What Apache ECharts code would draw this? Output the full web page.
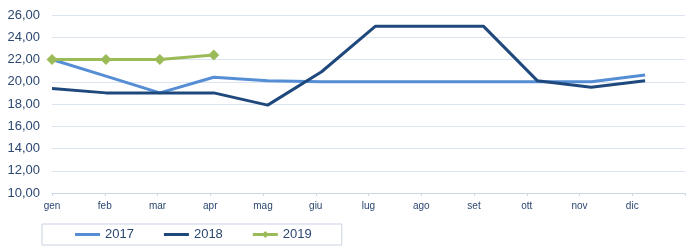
<!DOCTYPE html>
<html>
<head>
<meta charset="utf-8">
<script src="https://cdn.jsdelivr.net/npm/echarts@6/dist/echarts.min.js"></script>
<style>
  html, body { margin: 0; padding: 0; background: #fff; }
  #chart { width: 688px; height: 250px; }
</style>
</head>
<body>
<div id="chart"></div>
<script>
// mesi (etichette asse x), ultima posizione vuota
var months = ['gen', 'feb', 'mar', 'apr', 'mag', 'giu', 'lug', 'ago', 'set', 'ott', 'nov', 'dic', ''];
var y2017 = [22.0, 20.5, 19.0, 20.4, 20.1, 20.0, 20.0, 20.0, 20.0, 20.0, 20.0, 20.6];
var y2018 = [19.4, 19.0, 19.0, 19.0, 17.9, 20.9, 25.0, 25.0, 25.0, 20.1, 19.5, 20.1];
var y2019 = [22.0, 22.0, 22.0, 22.4];

var textColor = '#2C4770';
var gridColor = '#DCE4F1';
var font = 'Liberation Sans, Arial, sans-serif';

// icone legenda: solo linea / linea con rombo
var lineIcon = 'path://M0 0H25V3H0Z';
var diamondIcon = 'path://M0 5.5H25V8.5H0Z M12.5 3.5L16 7L12.5 10.5L9 7Z';

function pairs(arr) {
  return arr.map(function (v, i) { return [i, v]; });
}

var myChart = echarts.init(document.getElementById('chart'));
var option = {
  animation: false,
  textStyle: { fontFamily: font },
  grid: { left: 52, right: 1, top: 15, bottom: 57, containLabel: false },
  legend: {
    left: 42,
    top: 224,
    padding: [4, 30, 4, 33],
    itemWidth: 25,
    itemHeight: 12,
    itemGap: 30,
    borderColor: '#C9D3E3',
    borderWidth: 1,
    textStyle: { fontFamily: font, fontSize: 13, color: textColor },
    data: [
      { name: '2017', icon: lineIcon },
      { name: '2018', icon: lineIcon },
      { name: '2019', icon: diamondIcon }
    ]
  },
  xAxis: [
    {
      // asse visibile: etichette e tacche
      type: 'category',
      data: months,
      boundaryGap: false,
      axisLine: { lineStyle: { color: '#CDD6E6' } },
      axisTick: { show: true, length: 3, lineStyle: { color: '#CDD6E6' } },
      axisLabel: { color: textColor, fontSize: 10, margin: 8, fontFamily: font, interval: 0 },
      splitLine: { show: false }
    },
    {
      // asse nascosto per i punti (mese 0..11)
      type: 'value',
      min: 0,
      max: 11.74,
      show: false
    }
  ],
  yAxis: {
    type: 'value',
    min: 10,
    max: 26,
    interval: 2,
    axisLine: { show: false },
    axisTick: { show: false },
    axisLabel: {
      color: textColor, fontSize: 13, margin: 12, fontFamily: font,
      formatter: function (v) { return v.toFixed(2).replace('.', ','); }
    },
    splitLine: { lineStyle: { color: gridColor, width: 1 } }
  },
  series: [
    {
      name: '2017', type: 'line', xAxisIndex: 1,
      data: pairs(y2017),
      symbol: 'none',
      color: '#558ED5',
      lineStyle: { width: 3, color: '#558ED5' },
      z: 2
    },
    {
      name: '2018', type: 'line', xAxisIndex: 1,
      data: pairs(y2018),
      symbol: 'none',
      color: '#1F497D',
      lineStyle: { width: 3, color: '#1F497D' },
      z: 3
    },
    {
      name: '2019', type: 'line', xAxisIndex: 1,
      data: pairs(y2019),
      symbol: 'diamond',
      symbolSize: 11,
      color: '#9BBB59',
      itemStyle: { color: '#9BBB59' },
      lineStyle: { width: 3, color: '#9BBB59' },
      z: 4
    }
  ]
};
option && myChart.setOption(option);
</script>
</body>
</html>
